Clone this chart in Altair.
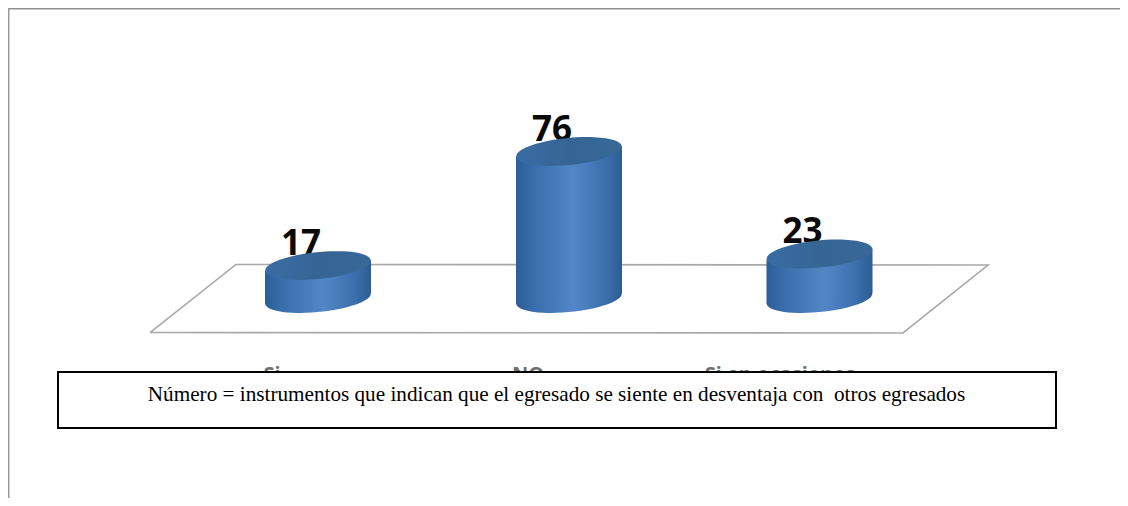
import altair as alt
import pandas as pd

# Chart values
categories = ["Si", "NO", "Si en ocasiones"]
values = [17, 76, 23]
value_labels = ["17", "76", "23"]
centres = [318, 569, 819.5]
label_centres = [272, 528, 780]

# Floor outline in chart units
floor_x = [142, 228, 980, 895, 142]
floor_y = [-17.6, 17.6, 17.3, -17.8, -17.6]

# Note box
note_text = "Número = instrumentos que indican que el egresado se siente en desventaja con\u00a0 otros egresados"
box_x = [50, 1048]
box_y = [-38, -67]

W, H = 1112, 490
PX = 1.934          # pixels per unit
ZERO = 290.5        # pixel row of the value 0
RX = 53
TILT = 5.2 / PX

x_scale = alt.Scale(domain=[0, W], nice=False, zero=False)
y_scale = alt.Scale(domain=[(ZERO - H) / PX, ZERO / PX], nice=False, zero=False)
X = alt.X("x:Q", scale=x_scale, axis=None)
Y = alt.Y("y:Q", scale=y_scale, axis=None)

ELLIPSE = "M-.995,.098A1,.25,-5.6,1,1,.995,-.098A1,.25,-5.6,1,1,-.995,.098Z"
ELLIPSE_SIZE = (2 * RX) ** 2


def side_gradient():
    return alt.LinearGradient(
        gradient="linear", x1=0, y1=0, x2=1, y2=0,
        stops=[
            alt.GradientStop(offset=0, color="#2c5e98"),
            alt.GradientStop(offset=0.18, color="#396fac"),
            alt.GradientStop(offset=0.55, color="#5386c6"),
            alt.GradientStop(offset=0.85, color="#3b6fab"),
            alt.GradientStop(offset=1, color="#2d5c94"),
        ],
    )


cyl = pd.DataFrame({"cat": categories, "cx": [c - 8 for c in centres], "v": values, "label": value_labels})

frame_top = pd.DataFrame({"x": [0, W], "y": [ZERO / PX, ZERO / PX]})
frame_left = pd.DataFrame({"x": [0, 0], "y": [ZERO / PX, (ZERO - H) / PX]})
frame = alt.layer(
    alt.Chart(frame_top).mark_line(color="#8f8f8f", strokeWidth=3).encode(x=X, y=Y),
    alt.Chart(frame_left).mark_line(color="#9a9a9a", strokeWidth=3).encode(x=X, y=Y),
)

floor = alt.Chart(pd.DataFrame({"x": floor_x, "y": floor_y, "o": range(5)})).mark_line(
    color="#a8a8a8", strokeWidth=1.6
).encode(x=X, y=Y, order="o:Q")

labels = alt.Chart(cyl.assign(x=cyl.cx - 17, y=cyl.v + 5.5)).mark_text(
    font="Noto Sans", fontWeight="bold", fontSize=35, color="#0a0a0a", baseline="alphabetic", align="center"
).encode(x=X, y=Y, text="label:N")

bottoms = alt.Chart(cyl.assign(x=cyl.cx, y=0)).mark_point(
    shape=ELLIPSE, size=ELLIPSE_SIZE, filled=True, fill=side_gradient(), opacity=1, strokeWidth=0
).encode(x=X, y=Y)

rows = []
for c, v in zip(cyl.cx, values):
    rows.append({"cat": c, "x": c - RX, "y": v - TILT, "y0": -TILT})
    rows.append({"cat": c, "x": c + RX, "y": v + TILT, "y0": TILT})
bodies = alt.Chart(pd.DataFrame(rows)).mark_area(fill=side_gradient(), opacity=1, strokeWidth=0).encode(
    x=X, y=Y, y2="y0:Q", detail="cat:N"
)

tops = alt.Chart(cyl.assign(x=cyl.cx, y=cyl.v)).mark_point(
    shape=ELLIPSE, size=ELLIPSE_SIZE, filled=True, opacity=1, strokeWidth=0,
    fill=alt.LinearGradient(
        gradient="linear", x1=0, y1=0, x2=1, y2=0,
        stops=[alt.GradientStop(offset=0, color="#3a6ca5"),
               alt.GradientStop(offset=0.5, color="#366594"),
               alt.GradientStop(offset=1, color="#386898")],
    ),
).encode(x=X, y=Y)

axis_labels = alt.Chart(pd.DataFrame({
    "x": [c - 8 for c in label_centres], "y": [-42.5] * 3, "t": categories
})).mark_text(font="Noto Sans", fontWeight="bold", fontSize=20, color="#707070", baseline="alphabetic").encode(
    x=X, y=Y, text="t:N"
)

box = alt.Chart(pd.DataFrame({"x": [box_x[0]], "x2": [box_x[1]], "y": [box_y[0]], "y2": [box_y[1]]})).mark_rect(
    fill="white", stroke="#000000", strokeWidth=2
).encode(x=X, x2="x2:Q", y=Y, y2="y2:Q")

note = alt.Chart(pd.DataFrame({"x": [548.5], "y": [-53], "t": [note_text]})).mark_text(
    font="Liberation Serif", fontSize=21.2, color="#000000", baseline="alphabetic", align="center"
).encode(x=X, y=Y, text="t:N")

chart = alt.layer(frame, floor, labels, bottoms, bodies, tops, axis_labels, box, note).properties(
    width=W, height=H, background="white", padding=0,
    autosize=alt.AutoSizeParams(type="none"),
).configure_view(stroke=None)

chart.save("out.html", embed_options={"renderer": "svg", "actions": False})
